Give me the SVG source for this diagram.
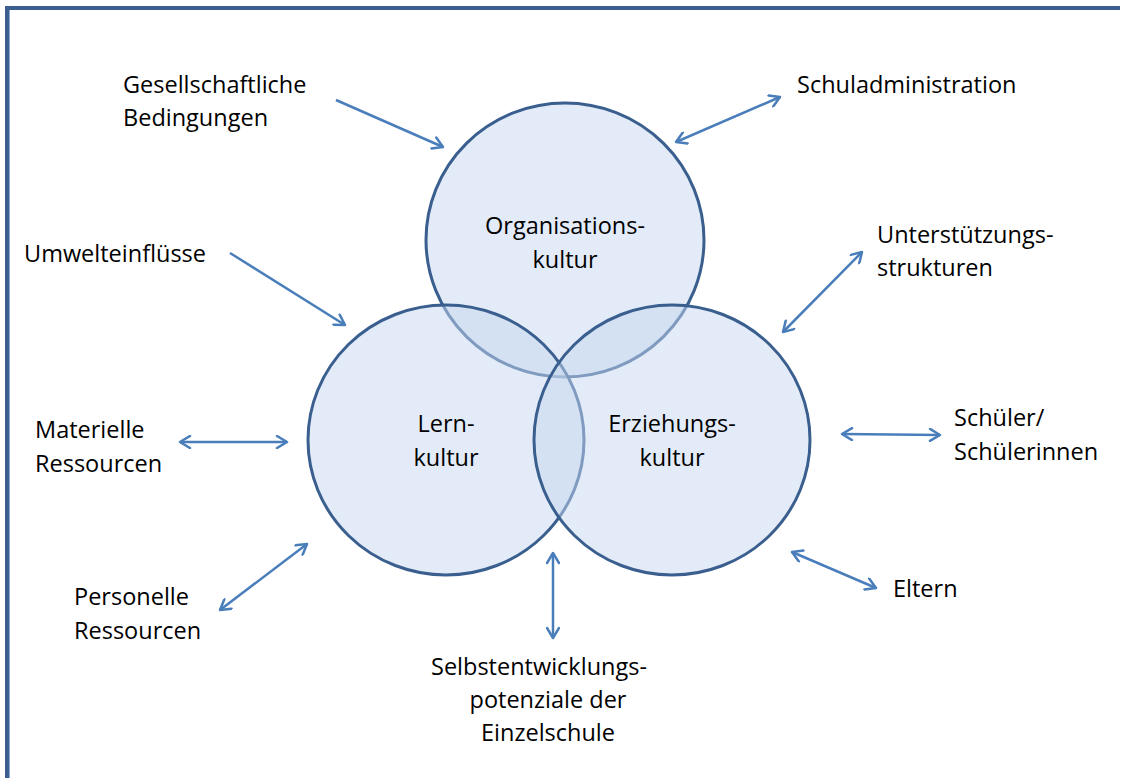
<svg xmlns="http://www.w3.org/2000/svg" width="1124" height="778" viewBox="0 0 1124 778">
<style>
  text { font-family: "Open Sans", "Noto Sans", sans-serif; font-size: 23.5px; fill: #000; }
  .c { fill: #c5d8f0; fill-opacity: 0.5; stroke: #3a5f8f; stroke-width: 3; }
  .a { stroke: #4a7ebb; stroke-width: 2.5; fill: none; }
  .m { text-anchor: middle; }
</style>
<defs>
  <marker id="ah" viewBox="0 0 14 14" refX="12" refY="7" markerWidth="14" markerHeight="14" markerUnits="userSpaceOnUse" orient="auto-start-reverse">
    <path d="M2,1 L12,7 L2,13" fill="none" stroke="#4a7ebb" stroke-width="2.5" stroke-linecap="round" stroke-linejoin="round"/>
  </marker>
</defs>
<rect width="1124" height="778" fill="#fff"/>
<g id="frame">
  <line x1="5" y1="8" x2="1120" y2="8" stroke="#3b5f8e" stroke-width="4"/>
  <line x1="7" y1="6" x2="7" y2="778" stroke="#3b5f8e" stroke-width="4"/>
  <line x1="9.5" y1="10" x2="9.5" y2="778" stroke="#8eaadb" stroke-width="1"/>
</g>
<g id="circles">
  <g id="organisationskultur">
    <ellipse class="c" cx="565" cy="240" rx="139" ry="137"/>
    <text class="m" x="565" y="234">Organisations-</text>
    <text class="m" x="565" y="268">kultur</text>
  </g>
  <g id="lernkultur">
    <ellipse class="c" cx="446" cy="440" rx="138" ry="135"/>
    <text class="m" x="446" y="432">Lern-</text>
    <text class="m" x="446" y="466">kultur</text>
  </g>
  <g id="erziehungskultur">
    <ellipse class="c" cx="672" cy="440" rx="138" ry="135"/>
    <text class="m" x="672" y="432">Erziehungs-</text>
    <text class="m" x="672" y="466">kultur</text>
  </g>
</g>
<g id="connectors">
  <line class="a" x1="336" y1="100" x2="443" y2="147" marker-end="url(#ah)"/>
  <line class="a" x1="676" y1="142" x2="780" y2="97" marker-start="url(#ah)" marker-end="url(#ah)"/>
  <line class="a" x1="230" y1="253" x2="345" y2="325" marker-end="url(#ah)"/>
  <line class="a" x1="783" y1="332" x2="862" y2="252" marker-start="url(#ah)" marker-end="url(#ah)"/>
  <line class="a" x1="180" y1="442" x2="287" y2="442" marker-start="url(#ah)" marker-end="url(#ah)"/>
  <line class="a" x1="842" y1="434" x2="940" y2="435" marker-start="url(#ah)" marker-end="url(#ah)"/>
  <line class="a" x1="220" y1="610" x2="307" y2="544" marker-start="url(#ah)" marker-end="url(#ah)"/>
  <line class="a" x1="792" y1="552" x2="876" y2="588" marker-start="url(#ah)" marker-end="url(#ah)"/>
  <line class="a" x1="553" y1="553" x2="553" y2="638" marker-start="url(#ah)" marker-end="url(#ah)"/>
</g>
<g id="gesellschaftliche-bedingungen">
  <text x="123" y="93">Gesellschaftliche</text>
  <text x="123" y="126">Bedingungen</text>
</g>
<g id="schuladministration">
  <text x="797" y="93">Schuladministration</text>
</g>
<g id="umwelteinfluesse">
  <text x="24" y="262">Umwelteinflüsse</text>
</g>
<g id="unterstuetzungsstrukturen">
  <text x="877" y="243">Unterstützungs-</text>
  <text x="877" y="276">strukturen</text>
</g>
<g id="materielle-ressourcen">
  <text x="35" y="438">Materielle</text>
  <text x="35" y="472">Ressourcen</text>
</g>
<g id="schueler">
  <text x="954" y="426">Schüler/</text>
  <text x="954" y="460">Schülerinnen</text>
</g>
<g id="personelle-ressourcen">
  <text x="74" y="605">Personelle</text>
  <text x="74" y="639">Ressourcen</text>
</g>
<g id="eltern">
  <text x="893" y="597">Eltern</text>
</g>
<g id="selbstentwicklungspotenziale">
  <text class="m" x="539" y="675">Selbstentwicklungs-</text>
  <text class="m" x="548" y="708">potenziale der</text>
  <text class="m" x="548" y="741">Einzelschule</text>
</g>
</svg>
